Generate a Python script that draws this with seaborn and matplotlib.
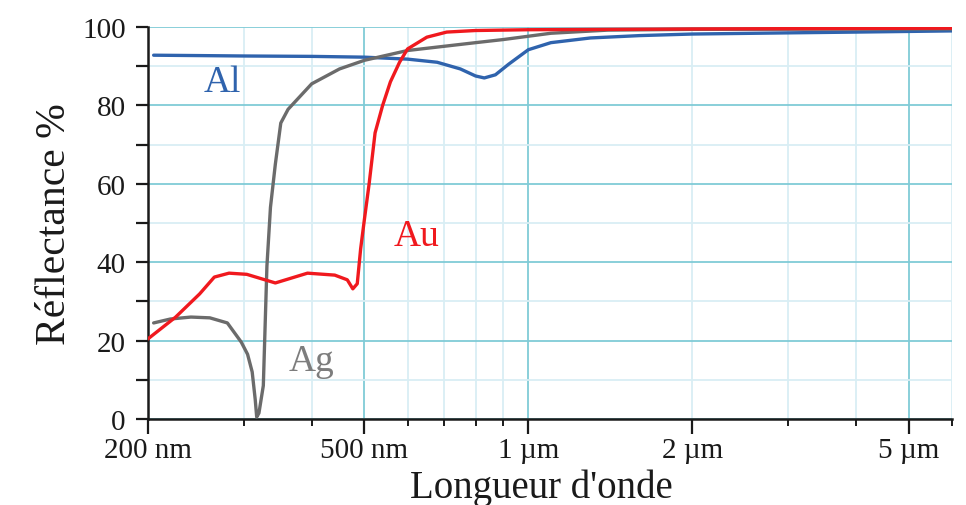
import matplotlib
matplotlib.use("Agg")
import matplotlib.pyplot as plt
import matplotlib.ticker as mticker
import pandas as pd
import seaborn as sns

# ---- Data (wavelength in nm, reflectance in %) ----
AL_WL = [205, 250, 300, 400, 500, 600, 680, 750, 800, 830, 870, 920, 1000,
         1100, 1300, 1600, 2000, 3000, 4000, 6000]
AL_R = [92.8, 92.7, 92.6, 92.5, 92.3, 91.8, 91.0, 89.3, 87.5, 87.0, 87.8, 90.5,
        94.2, 96.0, 97.2, 97.8, 98.2, 98.5, 98.7, 99.0]

AG_WL = [205, 220, 240, 260, 280, 297, 305, 311, 315, 317, 320, 326, 331, 336,
         343, 351, 362, 400, 450, 500, 600, 800, 900, 1100, 1400, 2000, 6000]
AG_R = [24.5, 25.5, 26.0, 25.8, 24.5, 19.6, 16.5, 12.0, 5.0, 0.5, 1.5, 8.5,
        39.0, 54.0, 65.0, 75.5, 79.0, 85.5, 89.3, 91.5, 94.0, 96.0, 96.8,
        98.4, 99.2, 99.4, 99.5]

AU_WL = [200, 225, 249, 265, 282, 304, 343, 393, 441, 465, 476, 485, 492, 500,
         510, 523, 540, 558, 580, 600, 651, 708, 800, 1000, 2000, 6000]
AU_R = [20.4, 26.0, 31.9, 36.2, 37.2, 36.9, 34.7, 37.2, 36.7, 35.5, 33.2, 34.5,
        43.4, 51.0, 60.0, 73.0, 80.0, 86.0, 91.0, 94.4, 97.4, 98.7, 99.1, 99.3,
        99.5, 99.7]

METALS = ["Al", "Ag", "Au"]
COLORS = {"Al": "#2f63ad", "Ag": "#6b6b6b", "Au": "#f0191e"}
TEXT_COLORS = {"Al": "#2f63ad", "Ag": "#7d7d7d", "Au": "#f0191e"}

X_TICKS = [200, 500, 1000, 2000, 5000]
X_LABELS = ["200 nm", "500 nm", "1 µm", "2 µm", "5 µm"]
X_MINOR = [300, 400, 600, 700, 800, 900, 3000, 4000, 6000]

# curve label positions (wavelength nm, reflectance %)
LABELS = {"Al": (274, 86.0), "Au": (622, 46.7), "Ag": (399, 14.8)}

GRID_MAJOR = "#80cbd7"
GRID_MINOR = "#d9eef4"

df = pd.concat([
    pd.DataFrame({"metal": "Al", "wl": AL_WL, "R": AL_R}),
    pd.DataFrame({"metal": "Ag", "wl": AG_WL, "R": AG_R}),
    pd.DataFrame({"metal": "Au", "wl": AU_WL, "R": AU_R}),
], ignore_index=True)

sns.set_theme(style="ticks")
plt.rcParams["font.family"] = ["Liberation Serif", "DejaVu Serif"]

fig = plt.figure(figsize=(9.66, 5.06), dpi=100)
ax = fig.add_axes([0.153, 0.170, 0.8325, 0.7747])

sns.lineplot(data=df, x="wl", y="R", hue="metal", hue_order=METALS,
             palette=COLORS, estimator=None, sort=False, linewidth=2.4,
             legend=False, ax=ax, zorder=3)

ax.set_xscale("log")
ax.set_xlim(200, 6000)
ax.set_ylim(0, 100)

ax.xaxis.set_major_locator(mticker.FixedLocator(X_TICKS))
ax.xaxis.set_major_formatter(mticker.FixedFormatter(X_LABELS))
ax.xaxis.set_minor_locator(mticker.FixedLocator(X_MINOR))
ax.xaxis.set_minor_formatter(mticker.NullFormatter())
ax.yaxis.set_major_locator(mticker.MultipleLocator(20))
ax.yaxis.set_minor_locator(mticker.MultipleLocator(10))

ax.grid(which="major", color=GRID_MAJOR, linewidth=1.3, zorder=0)
ax.grid(which="minor", color=GRID_MINOR, linewidth=1.3, zorder=0)
# the 2 µm line is drawn light in the original
for val, gl in zip(X_TICKS, ax.get_xgridlines()):
    if val == 2000:
        gl.set_color(GRID_MINOR)

for s in ["top", "right"]:
    ax.spines[s].set_visible(False)
for s in ["left", "bottom"]:
    ax.spines[s].set_linewidth(1.8)
    ax.spines[s].set_color("#1a1a1a")

ax.tick_params(axis="x", which="major", length=11, width=1.6, labelsize=21,
               pad=2, colors="#1a1a1a")
ax.tick_params(axis="x", which="minor", length=5, width=1.4, colors="#1a1a1a")
ax.tick_params(axis="y", which="both", length=9, width=1.6, labelsize=21,
               pad=7, colors="#1a1a1a")

ax.set_xlabel("Longueur d'onde", fontsize=28, color="#1a1a1a")
ax.xaxis.set_label_coords(0.489, -0.127)
ax.set_ylabel("Réflectance %", fontsize=30, labelpad=6, color="#1a1a1a")

for m in METALS:
    x, y = LABELS[m]
    ax.text(x, y, m, color=TEXT_COLORS[m], fontsize=27, ha="center",
            va="center", zorder=4)

fig.savefig("out.png", dpi=100)
